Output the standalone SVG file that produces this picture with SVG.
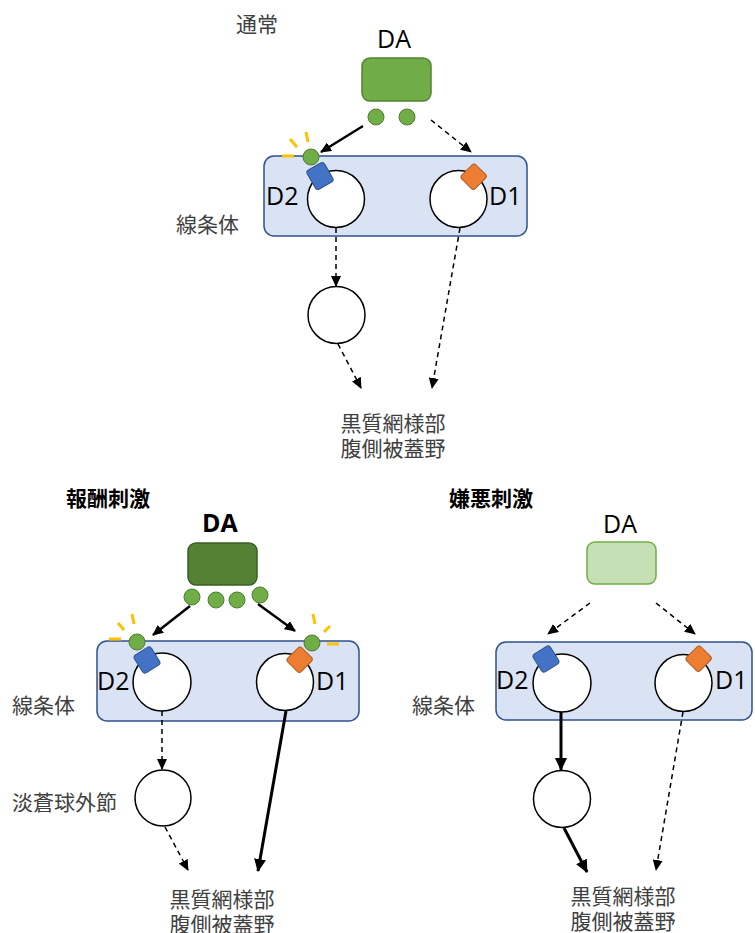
<svg xmlns="http://www.w3.org/2000/svg" width="755" height="933" viewBox="0 0 755 933">
<defs>
<marker id="ah" markerWidth="11" markerHeight="10" refX="10" refY="5" orient="auto" markerUnits="userSpaceOnUse"><path d="M0,0 L11,5 L0,10 z" fill="#000"/></marker>
<marker id="ahb" markerWidth="13" markerHeight="12" refX="12" refY="6" orient="auto" markerUnits="userSpaceOnUse"><path d="M0,0 L13,6 L0,12 z" fill="#000"/></marker>
<style>
.cjk{font-family:"Noto Sans CJK JP","Noto Sans",sans-serif;font-size:21px;fill:#404040}
.title{font-family:"Noto Sans CJK JP","Noto Sans",sans-serif;font-size:21px;font-weight:bold;fill:#000}
.lat{font-family:"Open Sans","Noto Sans",sans-serif;font-size:25px;fill:#000}
.panel{fill:#dae3f3;stroke:#2f528f;stroke-width:1.5}
.cell{fill:#fff;stroke:#000;stroke-width:1.5}
.dot{fill:#70ad47;stroke:#507e32;stroke-width:1}
.d2r{fill:#4472c4;stroke:#2f528f;stroke-width:1}
.d1r{fill:#ed7d31;stroke:#ae5a21;stroke-width:1}
.ray{stroke:#ffc000;stroke-width:3;fill:none}
.solid{stroke:#000;stroke-width:2.5;fill:none}
.thick{stroke:#000;stroke-width:3;fill:none}
.dash{stroke:#000;stroke-width:1.5;fill:none;stroke-dasharray:5,4}
</style>
</defs>

<!-- Top panel: normal -->
<g id="top">
<text class="cjk" x="236" y="32" font-size="20">通常</text>
<g id="top-da">
<text class="lat" x="394" y="48" text-anchor="middle" font-size="26">DA</text>
<rect x="362" y="58" width="69" height="43" rx="8" fill="#70ad47" stroke="#548235" stroke-width="1.5"/>
<circle class="dot" cx="376" cy="117" r="8"/>
<circle class="dot" cx="407" cy="117" r="8"/>
</g>
<text class="cjk" x="176" y="232">線条体</text>
<g id="top-striatum">
<rect class="panel" x="264" y="156" width="263" height="80" rx="10"/>
<circle class="cell" cx="336" cy="199" r="28.5"/>
<circle class="cell" cx="458.5" cy="199" r="28.5"/>
<rect class="d2r" x="-10" y="-11" width="20" height="22" rx="3" transform="translate(320,176) rotate(-30)"/>
<rect class="d1r" x="-10" y="-10" width="20" height="19" rx="3" transform="translate(474,177) rotate(-45)"/>
<circle class="dot" cx="311" cy="157" r="8"/>
<line class="ray" x1="282" y1="156" x2="294" y2="156"/>
<line class="ray" x1="290" y1="139" x2="297" y2="147"/>
<line class="ray" x1="306" y1="132" x2="308" y2="142"/>
<text class="lat" x="266" y="205">D2</text>
<text class="lat" x="489" y="205">D1</text>
</g>
<g id="top-gpe"><circle class="cell" cx="336.5" cy="315" r="28.5"/></g>
<g id="top-snr">
<text class="cjk" x="393" y="431" text-anchor="middle">黒質網様部</text>
<text class="cjk" x="393" y="456" text-anchor="middle">腹側被蓋野</text>
</g>
</g>

<!-- Bottom left: reward -->
<g id="reward">
<text class="title" x="66" y="506">報酬刺激</text>
<g id="rw-da">
<text class="lat" x="220" y="532" text-anchor="middle" font-size="26" font-weight="bold">DA</text>
<rect x="188" y="543" width="69" height="42" rx="8" fill="#548235" stroke="#3b5e25" stroke-width="1.5"/>
<circle class="dot" cx="192" cy="597" r="8"/>
<circle class="dot" cx="216" cy="600" r="8"/>
<circle class="dot" cx="237" cy="600" r="8"/>
<circle class="dot" cx="260" cy="595" r="8"/>
</g>
<text class="cjk" x="12" y="713">線条体</text>
<g id="rw-striatum">
<rect class="panel" x="97" y="641" width="262" height="80" rx="10"/>
<circle class="cell" cx="162" cy="682" r="29"/>
<circle class="cell" cx="285" cy="682" r="28.5"/>
<rect class="d2r" x="-10" y="-10.5" width="20" height="21" rx="3" transform="translate(147,660) rotate(-32)"/>
<rect class="d1r" x="-10" y="-10" width="20" height="19" rx="3" transform="translate(300,660) rotate(-45)"/>
<circle class="dot" cx="137" cy="642" r="8"/>
<circle class="dot" cx="312" cy="643" r="8"/>
<line class="ray" x1="109" y1="639" x2="121" y2="639"/>
<line class="ray" x1="118" y1="623" x2="124" y2="630"/>
<line class="ray" x1="132" y1="614" x2="134" y2="624"/>
<line class="ray" x1="313" y1="614" x2="315" y2="624"/>
<line class="ray" x1="330" y1="626" x2="324" y2="632"/>
<line class="ray" x1="327" y1="644" x2="339" y2="644"/>
<text class="lat" x="97" y="690">D2</text>
<text class="lat" x="316" y="690">D1</text>
</g>
<text class="cjk" x="12" y="810">淡蒼球外節</text>
<g id="rw-gpe"><circle class="cell" cx="163" cy="798" r="28"/></g>
<g id="rw-snr">
<text class="cjk" x="222" y="907" text-anchor="middle">黒質網様部</text>
<text class="cjk" x="222" y="932" text-anchor="middle">腹側被蓋野</text>
</g>
</g>

<!-- Bottom right: aversive -->
<g id="aversive">
<text class="title" x="449" y="506">嫌悪刺激</text>
<g id="av-da">
<text class="lat" x="620" y="533" text-anchor="middle" font-size="26" fill="#7f7f7f">DA</text>
<rect x="587" y="542" width="69" height="42" rx="8" fill="#c5e0b4" stroke="#70ad47" stroke-width="1.5"/>
</g>
<text class="cjk" x="412" y="713">線条体</text>
<g id="av-striatum">
<rect class="panel" x="496" y="642" width="256" height="78" rx="10"/>
<circle class="cell" cx="562" cy="683" r="29"/>
<circle class="cell" cx="683.5" cy="683" r="28.5"/>
<rect class="d2r" x="-10" y="-10.5" width="20" height="21" rx="3" transform="translate(546,659) rotate(-32)"/>
<rect class="d1r" x="-10" y="-10" width="20" height="19" rx="3" transform="translate(699,659) rotate(-45)"/>
<text class="lat" x="496" y="689">D2</text>
<text class="lat" x="715" y="689">D1</text>
</g>
<g id="av-gpe"><circle class="cell" cx="562" cy="799" r="28.5"/></g>
<g id="av-snr">
<text class="cjk" x="623" y="904" text-anchor="middle">黒質網様部</text>
<text class="cjk" x="623" y="929" text-anchor="middle">腹側被蓋野</text>
</g>
</g>

<g id="connectors">
<line class="solid" x1="363" y1="126" x2="321" y2="152" marker-end="url(#ah)"/>
<line class="dash" x1="431" y1="120" x2="471" y2="152" marker-end="url(#ah)"/>
<line class="dash" x1="336" y1="228" x2="336" y2="286" marker-end="url(#ah)"/>
<line class="dash" x1="338" y1="344" x2="361" y2="388" marker-end="url(#ah)"/>
<line class="dash" x1="460" y1="228" x2="432" y2="388" marker-end="url(#ah)"/>

<line class="solid" x1="190" y1="606" x2="153" y2="635" marker-end="url(#ah)"/>
<line class="solid" x1="258" y1="604" x2="295" y2="631" marker-end="url(#ah)"/>
<line class="dash" x1="162" y1="711" x2="162" y2="769" marker-end="url(#ah)"/>
<line class="dash" x1="165" y1="827" x2="188" y2="870" marker-end="url(#ah)"/>
<line class="thick" x1="286" y1="711" x2="258" y2="871" marker-end="url(#ahb)"/>

<line class="dash" x1="590" y1="603" x2="548" y2="634" marker-end="url(#ah)"/>
<line class="dash" x1="656" y1="603" x2="695" y2="634" marker-end="url(#ah)"/>
<line class="thick" x1="561" y1="712" x2="561" y2="770" marker-end="url(#ahb)"/>
<line class="thick" x1="564" y1="828" x2="587" y2="872" marker-end="url(#ahb)"/>
<line class="dash" x1="683" y1="712" x2="656" y2="870" marker-end="url(#ah)"/>
</g>
</svg>
